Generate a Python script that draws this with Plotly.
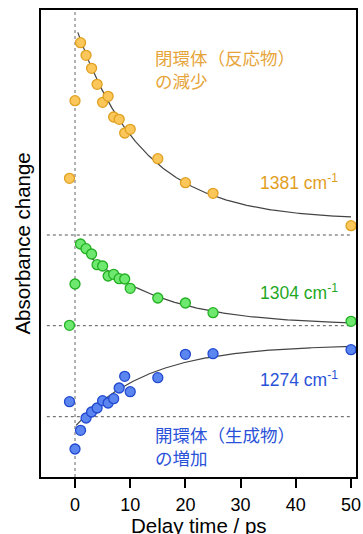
import numpy as np
import plotly.graph_objects as go

# ---- data (arbitrary absorbance units) ----
delay_ps = [-1, 0, 1, 2, 3, 4, 5, 6, 7, 8, 9, 10, 15, 20, 25, 50]

abs_1381 = [56.7, 134.3, 192.3, 179.7, 166.7, 150.7, 132.7, 138.7, 118.0, 115.7,
            102.0, 105.7, 76.3, 52.3, 41.7, 9.3]
abs_1304 = [0.4, 41.7, 81.7, 77.0, 71.7, 61.0, 59.7, 49.7, 51.4, 47.0,
            46.7, 37.4, 27.7, 22.7, 13.0, 4.4]
abs_1274 = [15.0, -32.3, -13.6, -1.3, 4.7, 8.7, 16.0, 13.7, 18.0, 28.7,
            40.4, 25.0, 39.0, 62.4, 63.0, 67.0]

series_labels = ["1381 cm<sup>-1</sup>", "1304 cm<sup>-1</sup>", "1274 cm<sup>-1</sup>"]
note_reactant = "閉環体（反応物）<br>の減少"
note_product = "開環体（生成物）<br>の増加"
x_title = "Delay time / ps"
y_title = "Absorbance change"

# exponential fit parameters  y = C + A*exp(-t/tau)
fit_A = [195.6, 83.0, -82.0]
fit_tau = [12.0, 14.0, 13.0]
fit_C = [15.0, 0.5, 72.0]
fit_start = [0.5, 0.3, 0.2]

# ---- layout constants ----
offsets = [265.0, 174.3, 83.3]
fills = ["#FBC65A", "#6FE86F", "#5B86F0"]
edges = ["#E0A020", "#22B022", "#2149D0"]
text_cols = ["#E29E1E", "#1FA81F", "#2A52D8"]
FONT = "Arial, Liberation Sans, Noto Sans CJK JP, sans-serif"

X_RANGE = [-6.16, 50.9]
Y_RANGE = [23, 490]

fig = go.Figure()

# vertical dotted line at t = 0
fig.add_shape(type="line", x0=0, x1=0, y0=0, y1=1, xref="x", yref="paper",
              line=dict(color="#9A9A9A", width=1.5, dash="dot"), layer="below")

for i in range(3):
    # baseline
    fig.add_shape(type="line", x0=-5.1, x1=50.2, y0=offsets[i], y1=offsets[i],
                  xref="x", yref="y",
                  line=dict(color="#555555", width=1, dash="dot"), layer="below")
    # fit curve
    t = np.linspace(fit_start[i], 50, 300)
    yfit = fit_C[i] + fit_A[i] * np.exp(-t / fit_tau[i]) + offsets[i]
    fig.add_trace(go.Scatter(x=t, y=yfit, mode="lines",
                             line=dict(color="#444444", width=1.2),
                             showlegend=False, hoverinfo="skip"))

data = [abs_1381, abs_1304, abs_1274]
for i in range(3):
    y = [v + offsets[i] for v in data[i]]
    fig.add_trace(go.Scatter(x=delay_ps, y=y, mode="markers",
                             marker=dict(size=10, color=fills[i],
                                         line=dict(color=edges[i], width=1.3)),
                             showlegend=False, name=series_labels[i]))

# series labels
label_y = [318.3, 208.3, 121.0]
for i in range(3):
    fig.add_annotation(x=48.0, y=label_y[i], xref="x", yref="y",
                       text=series_labels[i], showarrow=False,
                       xanchor="right", yanchor="middle",
                       font=dict(family=FONT, size=17.5, color=text_cols[i]))

fig.add_annotation(x=14.1, y=429.6, xref="x", yref="y", text=note_reactant,
                   showarrow=False, xanchor="left", yanchor="middle", align="left",
                   font=dict(family=FONT, size=17.5, color="#E6A53A"))
fig.add_annotation(x=14.1, y=53.0, xref="x", yref="y", text=note_product,
                   showarrow=False, xanchor="left", yanchor="middle", align="left",
                   font=dict(family=FONT, size=17.5, color=text_cols[2]))

# axis titles
fig.add_annotation(x=0.5, y=-0.104, xref="paper", yref="paper", text=x_title,
                   showarrow=False, xanchor="center", yanchor="middle",
                   font=dict(family=FONT, size=20.5, color="black"))
fig.add_annotation(x=-0.06, y=0.5, xref="paper", yref="paper", text=y_title,
                   showarrow=False, xanchor="center", yanchor="middle", textangle=-90,
                   font=dict(family=FONT, size=20.5, color="black"))

fig.update_layout(
    width=363, height=534,
    margin=dict(l=41, r=7, t=10, b=57, autoexpand=False),
    paper_bgcolor="white", plot_bgcolor="white",
    font=dict(family=FONT, color="black"),
    xaxis=dict(range=X_RANGE, showgrid=False, zeroline=False, automargin=False,
               showline=True, linecolor="black", linewidth=2, mirror=True,
               ticks="outside", ticklen=9, tickwidth=2, tickcolor="black",
               tickvals=[0, 10, 20, 30, 40, 50], ticklabelstandoff=1,
               tickfont=dict(size=18, family=FONT)),
    yaxis=dict(range=Y_RANGE, showgrid=False, zeroline=False, automargin=False,
               showline=True, linecolor="black", linewidth=2, mirror=True,
               showticklabels=False, ticks=""),
)

fig.write_html("out.html")
